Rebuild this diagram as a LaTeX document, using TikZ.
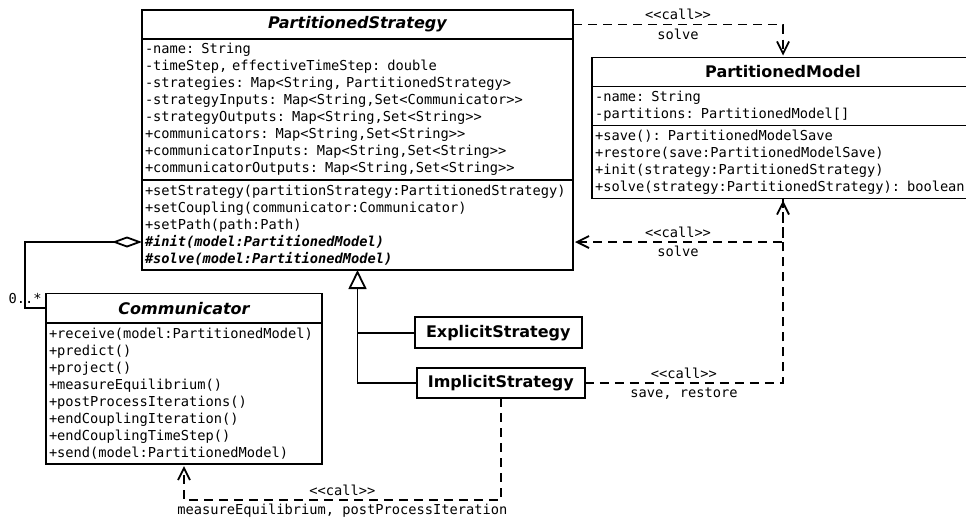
\documentclass[tikz,border=0pt]{standalone}
\usepackage{fontspec}
\setsansfont{DejaVu Sans}
\setmonofont{DejaVu Sans Mono}
\usepackage{tikz}
\usetikzlibrary{arrows.meta, positioning, calc}
\newcommand{\memberfont}{\ttfamily\fontsize{13.7pt}{17pt}\selectfont}
\newcommand{\titlefont}{\sffamily\bfseries\fontsize{16pt}{19pt}\selectfont}

\begin{document}
\begin{tikzpicture}[
    x=1pt, y=-1pt,
    line width=1.8pt,
    classname/.style={draw, font=\titlefont, minimum width=#1,
                      minimum height=29pt, inner sep=0pt, outer sep=0pt},
    members/.style={draw, font=\memberfont, align=left, text width=#1,
                    inner xsep=3pt, inner ysep=0pt, outer sep=0pt},
    call/.style={dash pattern=on 9pt off 6pt, shorten >=2pt,
                 -{Straight Barb[length=12pt, width=12pt]}},
    inherit/.style={-{Triangle[open, length=19pt, width=18pt]}},
    aggr/.style={{Diamond[open, length=30pt, width=11pt]}-},
    lbl/.style={font=\memberfont, inner sep=3.5pt}
]
\useasboundingbox (0,0) rectangle (966,520);

% PartitionedStrategy
\node[classname=431pt, anchor=north west] (psTitle) at (142,10)
    {\itshape PartitionedStrategy};
\node[members=425pt, minimum height=141pt, below=0pt of psTitle] (psAttr)
    {-name: String\\
     -timeStep, effectiveTimeStep: double\\
     -strategies: Map<String, PartitionedStrategy>\\
     -strategyInputs: Map<String,Set<Communicator>{}>\\
     -strategyOutputs: Map<String,Set<String>{}>\\
     +communicators: Map<String,Set<String>{}>\\
     +communicatorInputs: Map<String,Set<String>{}>\\
     +communicatorOutputs: Map<String,Set<String>{}>};
\node[members=425pt, minimum height=90pt, below=0pt of psAttr] (psOps)
    {+setStrategy(partitionStrategy:PartitionedStrategy)\\
     +setCoupling(communicator:Communicator)\\
     +setPath(path:Path)\\
     \textbf{\textit{\#init(model:PartitionedModel)}}\\
     \textbf{\textit{\#solve(model:PartitionedModel)}}};
\coordinate (psInitL) at ($(psOps.west)+(0,17)$);
\coordinate (psInitR) at ($(psOps.east)+(0,17)$);

% PartitionedModel
\node[classname=382pt, anchor=north west] (pmTitle) at (592,57.5)
    {PartitionedModel};
\node[members=376pt, minimum height=39pt, below=0pt of pmTitle] (pmAttr)
    {-name: String\\
     -partitions: PartitionedModel[]};
\node[members=376pt, minimum height=73pt, below=0pt of pmAttr] (pmOps)
    {+save(): PartitionedModelSave\\
     +restore(save:PartitionedModelSave)\\
     +init(strategy:PartitionedStrategy)\\
     +solve(strategy:PartitionedStrategy): boolean};

% Communicator
\node[classname=276pt, minimum height=29.5pt, anchor=north west] (commTitle) at (46,293.5)
    {\itshape Communicator};
\node[members=270pt, minimum height=141pt, below=0pt of commTitle] (commOps)
    {+receive(model:PartitionedModel)\\
     +predict()\\
     +project()\\
     +measureEquilibrium()\\
     +postProcessIterations()\\
     +endCouplingIteration()\\
     +endCouplingTimeStep()\\
     +send(model:PartitionedModel)};

% subclasses
\node[classname=166.7pt, minimum height=31pt] (explicit) at (498.3,332.8) {ExplicitStrategy};
\node[classname=168.3pt, minimum height=30pt] (implicit) at (500.8,383.3) {ImplicitStrategy};

% generalization
\draw[inherit] (implicit.west) -| (psOps.south);
\draw (explicit.west) -- (explicit.west -| psOps.south);

% aggregation
\draw[aggr] (psInitL) -- ++(-117,0) |- node[lbl, pos=1, above left]{0..*} (commTitle.west);

% calls
\draw[call] (psTitle.east) -| node[lbl, pos=0.25, above]{<<call>>}
    node[lbl, pos=0.25, below]{solve} (pmTitle.north);
\draw[call] (pmOps.south) |- node[lbl, pos=0.75, above]{<<call>>}
    node[lbl, pos=0.75, below]{solve} (psInitR);
\draw[call] (implicit.east) -| node[lbl, pos=0.25, above]{<<call>>}
    node[lbl, pos=0.25, below]{save, restore} (pmOps.south);
\draw[call] (implicit.south) -- ++(0,101.7) -| node[lbl, pos=0.25, above]{<<call>>}
    node[lbl, pos=0.25, below]{measureEquilibrium, postProcessIteration} (commOps.south);

\end{tikzpicture}
\end{document}
